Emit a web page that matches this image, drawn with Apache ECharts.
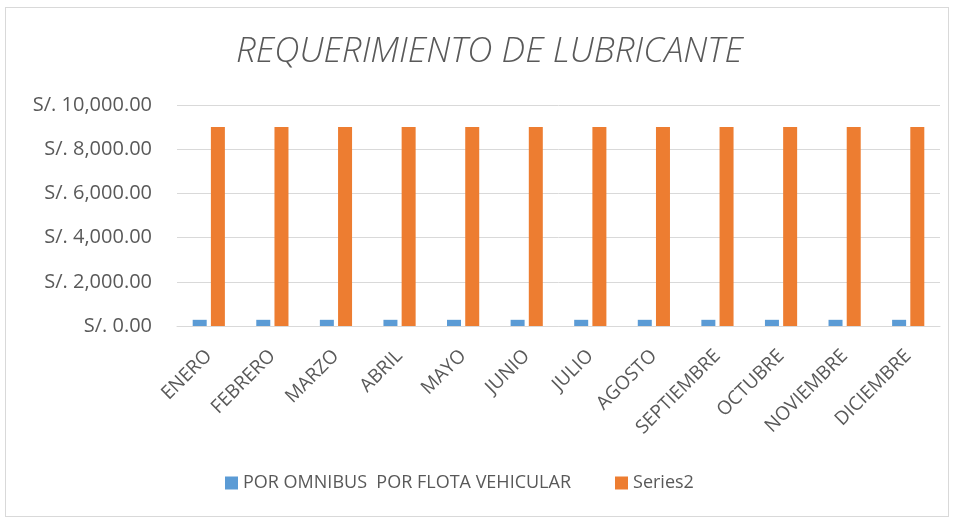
<!DOCTYPE html>
<html>
<head>
<meta charset="utf-8">
<script src="https://cdn.jsdelivr.net/npm/echarts@6/dist/echarts.min.js"></script>
<style>
html,body{margin:0;padding:0;background:#fff;}
#frame{position:absolute;left:5px;top:7px;width:944px;height:510px;border:1px solid #d9d9d9;box-sizing:border-box;}
#chart{position:absolute;left:0;top:0;width:956px;height:523px;}
</style>
</head>
<body>
<div id="frame"></div>
<div id="chart"></div>
<script>
const months = ["ENERO","FEBRERO","MARZO","ABRIL","MAYO","JUNIO","JULIO","AGOSTO","SEPTIEMBRE","OCTUBRE","NOVIEMBRE","DICIEMBRE"];
const seriesNames = ["POR OMNIBUS  POR FLOTA VEHICULAR", "Series2"];
const omnibus = [280,280,280,280,280,280,280,280,280,280,280,280];
const series2 = [9000,9000,9000,9000,9000,9000,9000,9000,9000,9000,9000,9000];
const yMin = 0, yMax = 10000, yInterval = 2000;

const fmt = v => "S/. " + v.toLocaleString("en-US",{minimumFractionDigits:2,maximumFractionDigits:2});
const chart = echarts.init(document.getElementById("chart"), null, {renderer:"canvas"});
const txt = "#595959";
chart.setOption({
  animation:false,
  backgroundColor:"transparent",
  title:{
    text:"REQUERIMIENTO DE LUBRICANTE",
    left:231, top:30,
    textStyle:{fontFamily:"Open Sans", fontStyle:"italic", fontWeight:300, fontSize:35, color:txt}
  },
  legend:{
    bottom:26, left:220, itemWidth:13, itemHeight:13, itemGap:44,
    icon:"rect",
    textStyle:{fontFamily:"Open Sans", fontSize:18, color:txt},
    data:seriesNames
  },
  grid:{left:177, right:16, top:105, bottom:197},
  xAxis:{
    type:"category", data:months,
    axisLine:{lineStyle:{color:"#d9d9d9", width:1}},
    axisTick:{show:false},
    axisLabel:{rotate:45, interval:0, margin:27, fontFamily:"Open Sans", fontSize:19, color:txt}
  },
  yAxis:{
    type:"value", min:yMin, max:yMax, interval:yInterval,
    axisLine:{show:false}, axisTick:{show:false},
    splitLine:{lineStyle:{color:"#d9d9d9", width:1}},
    axisLabel:{formatter:fmt, margin:25, fontFamily:"Open Sans", fontSize:20, color:txt}
  },
  series:[
    {name:seriesNames[0], type:"bar", data:omnibus, barWidth:14, barGap:"30%", itemStyle:{color:"#5b9bd5"}},
    {name:seriesNames[1], type:"bar", data:series2, barWidth:14, barGap:"30%", itemStyle:{color:"#ed7d31"}}
  ]
});
</script>
</body>
</html>
